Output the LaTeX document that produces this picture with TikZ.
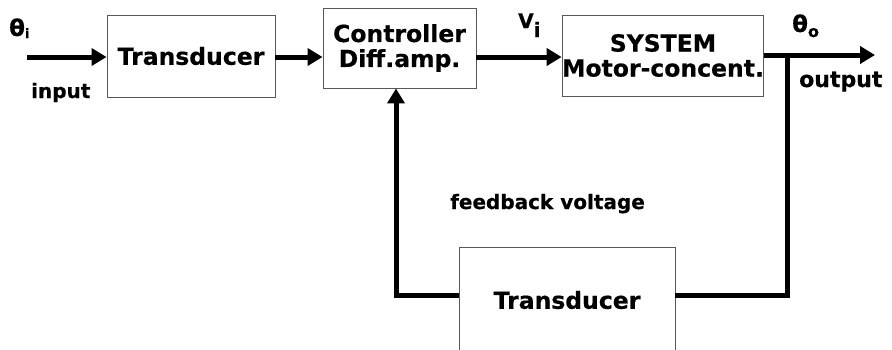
\documentclass[tikz,border=0pt]{standalone}
\usepackage{fontspec}
\setmainfont{DejaVu Sans}[BoldFeatures={FakeBold=0.5}]
\usetikzlibrary{arrows.meta}
\begin{document}
\begin{tikzpicture}[x=1pt,y=-1pt,
  blk/.style={draw=black!65, line width=0.9pt, inner sep=0pt,
    font=\fontsize{23.5}{25}\selectfont\bfseries, align=center},
  wire/.style={line width=5pt},
  arr/.style={wire, -{Triangle[length=15pt,width=17pt]}},
  lbl/.style={inner sep=0pt, anchor=base west, font=\bfseries}]
\useasboundingbox (0,0) rectangle (892,349);
\clip (0,0) rectangle (892,349);
% blocks
\node[blk, minimum width=168pt, minimum height=82pt] (t1) at (191,56) {Transducer};
\node[blk, minimum width=153pt, minimum height=80pt] (ctrl) at (399.5,48) {Controller\\Diff.amp.};
\node[blk, minimum width=200pt, minimum height=81pt] (sys) at (663,55.5) {SYSTEM\\Motor-concent.};
\node[blk, minimum width=216pt, minimum height=106pt] (tb) at (567,300) {Transducer};
% coordinates
\coordinate (in) at (27,57);
\coordinate (out) at (875,55);
\coordinate (br) at (787,295);
\coordinate (bl) at (396,295);
% connectors
\draw[arr] (in) -- (t1.west |- in);
\draw[arr] (t1.east |- in) -- (ctrl.west |- in);
\draw[arr] (ctrl.east |- 0,57) -- (sys.west |- 0,57);
\draw[arr] (sys.east |- out) -- (out);
\draw[wire] (br |- out) -- (br) -- (tb.east |- br);
\draw[arr] (tb.west |- bl) -- (bl) -- (bl |- ctrl.south);
% labels
\node[lbl] (thi) at (9,36) {\fontsize{23}{23}\selectfont θ\raisebox{-2pt}{\fontsize{13}{13}\selectfont i}};
\node[lbl] (inp) at (31,98) {\fontsize{20}{20}\selectfont input};
\node[lbl] (vi) at (518,28) {\fontsize{20}{20}\selectfont V\raisebox{-9pt}{i}};
\node[lbl] (tho) at (792,32) {\fontsize{23}{23}\selectfont θ\raisebox{-5pt}{\fontsize{16}{16}\selectfont o}};
\node[lbl] (outp) at (799,87) {\fontsize{22}{22}\selectfont output};
\node[lbl] (fb) at (450,209) {\fontsize{20}{20}\selectfont feedback voltage};
\end{tikzpicture}
\end{document}
